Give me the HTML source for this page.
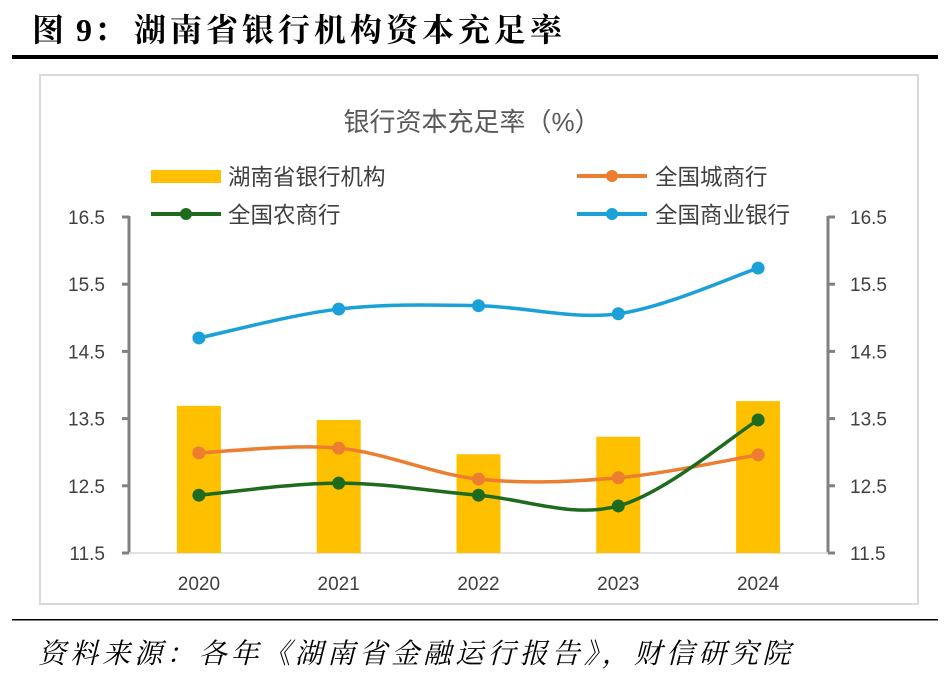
<!DOCTYPE html>
<html><head><meta charset="utf-8"><style>
body{margin:0;width:950px;height:678px;background:#fff;overflow:hidden;font-family:"Liberation Sans","Noto Sans CJK SC",sans-serif}
</style></head><body>
<svg width="950" height="678" xmlns="http://www.w3.org/2000/svg">
<g font-family="'Liberation Serif','Noto Serif CJK SC',serif" font-weight="bold" fill="#000">
<text x="32" y="41" font-size="32" letter-spacing="2">图 9：</text>
<text x="134" y="41" font-size="32" letter-spacing="4">湖南省银行机构资本充足率</text>
</g>
<rect x="12" y="55" width="926" height="4" fill="#000"/>
<rect x="40" y="75" width="878" height="529" fill="none" stroke="#d9d9d9" stroke-width="2"/>
<text x="472" y="131" text-anchor="middle" font-size="26" fill="#595959">银行资本充足率（%）</text>
<g id="legend" font-size="22.5" fill="#404040">
<g><rect x="151" y="170" width="70" height="13" fill="#ffc000"/><text x="228" y="185">湖南省银行机构</text></g>
<g><line x1="577" y1="176" x2="647" y2="176" stroke="#ed7d31" stroke-width="4"/><circle cx="612" cy="176" r="6" fill="#ed7d31"/><text x="655" y="185">全国城商行</text></g>
<g><line x1="151" y1="214" x2="221" y2="214" stroke="#1e6b1e" stroke-width="4"/><circle cx="186" cy="214" r="6" fill="#1e6b1e"/><text x="228" y="223">全国农商行</text></g>
<g><line x1="577" y1="214" x2="647" y2="214" stroke="#1ba1d8" stroke-width="4"/><circle cx="612" cy="214" r="6" fill="#1ba1d8"/><text x="655" y="223">全国商业银行</text></g>
</g>
<g id="plot"></g>
<rect x="12" y="619" width="926" height="1.5" fill="#000"/>
<text x="38" y="663" font-family="'Liberation Serif','Noto Serif CJK SC',serif" font-style="italic" font-size="28" letter-spacing="4.1" fill="#000">资料来源：各年《湖南省金融运行报告》，财信研究院</text>
</svg>
<script>
const categories=["2020","2021","2022","2023","2024"];
const hunanBank=[13.69,13.48,12.97,13.23,13.76];
const cityBank=[12.99,13.06,12.60,12.62,12.96];
const ruralBank=[12.36,12.54,12.36,12.20,13.48];
const nationalBank=[14.70,15.13,15.18,15.06,15.74];
const yTicks=[11.5,12.5,13.5,14.5,15.5,16.5];
const NS="http://www.w3.org/2000/svg";
const g=document.getElementById('plot');
const x0=129,x1=828,yBottom=553,yTop=217;
const xs=i=>x0+(x1-x0)*(i+0.5)/categories.length;
const ys=v=>yBottom-(v-11.5)/(16.5-11.5)*(yBottom-yTop);
function mk(t,a){const e=document.createElementNS(NS,t);for(const k in a)e.setAttribute(k,a[k]);g.appendChild(e);return e;}
yTicks.forEach(v=>{
 const y=ys(v);
 let t=mk('text',{x:105,y:y+7,'text-anchor':'end','font-size':19,fill:'#404040'});t.textContent=v.toFixed(1);
 
 
 let t2=mk('text',{x:850,y:y+7,'font-size':19,fill:'#404040'});t2.textContent=v.toFixed(1);
 
 
 mk('line',{x1:x0-7,y1:y,x2:x0,y2:y,stroke:'#808080','stroke-width':3});
 mk('line',{x1:x1,y1:y,x2:x1+7,y2:y,stroke:'#808080','stroke-width':3});
});
let la=mk('line',{x1:x0,y1:yTop-1,x2:x0,y2:yBottom,stroke:'#808080','stroke-width':3});


let ra=mk('line',{x1:x1,y1:yTop-1,x2:x1,y2:yBottom,stroke:'#808080','stroke-width':3});


let xa=mk('line',{x1:x0,y1:yBottom,x2:x1,y2:yBottom,stroke:'#d9d9d9','stroke-width':1.5});


categories.forEach((c,i)=>{
 let b=mk('rect',{x:xs(i)-22,y:ys(hunanBank[i]),width:44,height:yBottom-ys(hunanBank[i]),fill:'#ffc000'});
 
 
 let t=mk('text',{x:xs(i),y:590,'text-anchor':'middle','font-size':19,fill:'#404040'});t.textContent=c;
 
 
});
function smooth(vals){
 const p=vals.map((v,i)=>[xs(i),ys(v)]);let d='M'+p[0][0]+','+p[0][1];
 for(let i=0;i<p.length-1;i++){const a=p[i-1]||p[i],b=p[i],c=p[i+1],e=p[i+2]||c;
  d+=' C'+(b[0]+(c[0]-a[0])/6)+','+(b[1]+(c[1]-a[1])/6)+' '+(c[0]-(e[0]-b[0])/6)+','+(c[1]-(e[1]-b[1])/6)+' '+c[0]+','+c[1];}
 return d;}
[[cityBank,'#ed7d31','city'],[ruralBank,'#1e6b1e','rural'],[nationalBank,'#1ba1d8','national']].forEach(([vals,col,n])=>{
 let p=mk('path',{d:smooth(vals),fill:'none',stroke:col,'stroke-width':3.5});
 
 
 vals.forEach((v,i)=>{let c=mk('circle',{cx:xs(i),cy:ys(v),r:6.5,fill:col});
  
  });
});
</script>
</body></html>
